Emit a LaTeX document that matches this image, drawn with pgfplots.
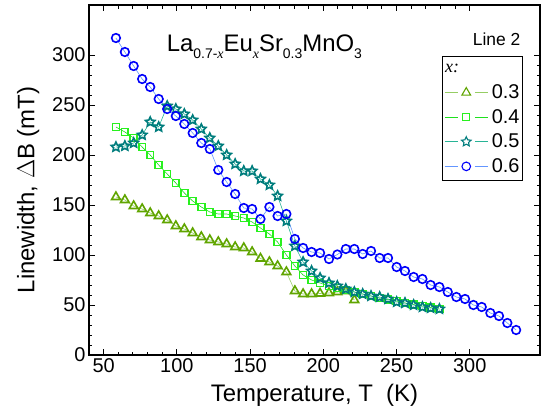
\documentclass[border=0pt]{standalone}
\usepackage{fontspec}
\setmainfont{Liberation Sans}
\newfontfamily\serif{Liberation Serif}
\usepackage{pgfplots}
\usepackage{pgfplotstable}
\pgfplotsset{compat=1.18}

\pgfdeclareplotmark{ostar}{%
 \pgfpathmoveto{\pgfpointpolar{90}{\pgfplotmarksize}}%
 \pgfpathlineto{\pgfpointpolar{126}{0.48\pgfplotmarksize}}%
 \pgfpathlineto{\pgfpointpolar{162}{\pgfplotmarksize}}%
 \pgfpathlineto{\pgfpointpolar{198}{0.48\pgfplotmarksize}}%
 \pgfpathlineto{\pgfpointpolar{234}{\pgfplotmarksize}}%
 \pgfpathlineto{\pgfpointpolar{270}{0.48\pgfplotmarksize}}%
 \pgfpathlineto{\pgfpointpolar{306}{\pgfplotmarksize}}%
 \pgfpathlineto{\pgfpointpolar{342}{0.48\pgfplotmarksize}}%
 \pgfpathlineto{\pgfpointpolar{18}{\pgfplotmarksize}}%
 \pgfpathlineto{\pgfpointpolar{54}{0.48\pgfplotmarksize}}%
 \pgfpathclose\pgfusepathqstroke}

\definecolor{cAm}{RGB}{96,165,0}
\definecolor{cAl}{RGB}{150,205,100}
\definecolor{cBm}{RGB}{40,240,30}
\definecolor{cBl}{RGB}{30,225,30}
\definecolor{cCm}{RGB}{0,125,125}
\definecolor{cCl}{RGB}{40,180,150}
\definecolor{cDm}{RGB}{0,0,250}
\definecolor{cDl}{RGB}{100,150,255}

\pgfplotstableread{
T v
58.4 158
64.5 155
70.5 149
76.3 146
81.8 142
87.6 139
93.4 135
99.3 129
105.1 126
110.8 122
116.7 118
122.5 115
128.3 113
134.0 111
139.8 108
145.7 107
151.4 103
157.1 96.5
163.2 93
168.8 89
174.8 83
180.6 64
186.2 61
192.0 61
197.8 61.5
203.9 62
209.6 63
215.4 64
221.2 55
}\tA

\pgfplotstableread{
T v
58.4 228
64.5 223
70.5 217
76.3 208
81.8 200
87.6 190
93.4 181
99.3 172
105.1 162
110.8 154
116.7 148
122.5 143
128.3 141
134.0 141
139.8 139
145.7 137
151.4 133
157.1 127
163.2 121
168.8 113
174.8 100
180.6 89
186.2 80
192.0 75
197.8 72
203.9 69
209.6 67
215.4 65
221.2 63
226.9 61
232.6 59
238.5 57
244.2 55.5
250.1 54
255.8 52
261.7 50.5
267.7 49
273.3 47.5
279.3 46
}\tB

\pgfplotstableread{
T v
58.4 208
64.5 209
70.5 212
76.3 220
81.8 233
87.6 228
93.4 249
99.3 246
105.1 241
110.8 235
116.7 226
122.5 217
128.3 209
134.0 200
139.8 191
145.7 184
151.4 184
157.1 176
163.2 170
168.8 159
174.8 134
180.6 109
186.2 93
192.0 84
197.8 77
203.9 72
209.6 69
215.4 66
221.2 63
226.9 61
232.6 59
238.5 58
244.2 56
250.1 53
255.8 52
261.7 50
267.7 48
273.3 47
279.3 46
}\tC

\pgfplotstableread{
T v
58.4 317
64.5 303
70.5 289
76.3 276
81.8 268
87.6 256
93.4 246
99.3 239
105.1 231
110.8 222
116.7 212
122.5 206
128.3 185
134.0 173
139.8 161
145.7 147
151.4 146
157.1 136
163.2 148
168.8 139
174.8 141
180.6 116
186.2 107
192.0 103
197.8 102
203.9 96
209.6 100.5
215.4 106
221.2 106
226.9 101
232.6 104
238.5 97
244.2 97
250.1 88
255.8 84
261.7 78
267.7 76
273.3 70
279.3 68
285.0 63
290.9 58
296.8 56
302.5 50
308.2 48
314.1 42
320.0 39
325.7 32
331.7 25
}\tD

\begin{document}
\begin{tikzpicture}
\useasboundingbox (-89bp,-53bp) rectangle (452bp,355bp);
\begin{axis}[
  at={(0,0)}, anchor=south west,
  scale only axis,
  width=451bp, height=350bp,
  xmin=40, xmax=348, ymin=0, ymax=350,
  xtick={50,100,...,300}, ytick={0,50,...,300},
  minor x tick num=4, minor y tick num=4,
  tick align=inside,
  major tick length=6bp, minor tick length=3.5bp,
  axis line style={line width=1.2bp},
  every tick/.style={black, line width=0.9bp},
  xtick pos=both, ytick pos=both,
  xticklabel pos=left, yticklabel pos=left,
  /pgf/number format/assume math mode=true,
  tick label style={font=\fontsize{20}{20}\selectfont},
  xlabel={Temperature, T\ \ (K)},
  ylabel={Linewidth, $\Delta$B (mT)},
  label style={font=\fontsize{24}{24}\selectfont},
  xlabel style={yshift=-5bp},
  ylabel style={yshift=6bp, xshift=-10bp},
  legend cell align=left,
  legend style={
    at={(0.962,0.855)}, anchor=north east,
    draw=black, line width=0.8bp,
    font=\fontsize{20}{20}\selectfont,
    inner xsep=1.5bp, inner ysep=5bp,
    nodes={inner sep=1.5bp},
    row sep=6.2bp, column sep=2bp,
  },
  legend image code/.code={
    \draw[#1, mark=none, line width=1bp] (0bp,0bp) -- (13bp,0bp);
    \draw[#1, mark=none, line width=1bp] (30bp,0bp) -- (43bp,0bp);
    \draw[#1, only marks, every mark/.append style={line width=1.1bp}] plot coordinates {(21.5bp,0bp)};
  },
]
\addlegendimage{legend image code/.code={\path[draw=none] (0bp,-7bp) rectangle (1bp,9bp);\node[anchor=west, inner sep=0pt, draw=none] at (0bp,1bp) {\fontsize{18}{18}\selectfont\serif\itshape x:};}}
\addlegendentry{}

\addplot[color=cAl, line width=0.6bp, mark=triangle, mark size=5bp,
  mark options={draw=cAm, line width=1.6bp, fill=none}] table[x=T,y=v] {\tA};
\addlegendentry{0.3}
\addplot[color=cBl, line width=0.6bp, mark=square, mark size=3.4bp,
  mark options={draw=cBm, line width=1.6bp, fill=none}] table[x=T,y=v] {\tB};
\addlegendentry{0.4}
\addplot[color=cCl, line width=0.6bp, mark=ostar, mark size=5bp,
  mark options={draw=cCm, line width=1.6bp, fill=none}] table[x=T,y=v] {\tC};
\addlegendentry{0.5}
\addplot[color=cDl, line width=0.6bp, mark=o, mark size=4.3bp,
  mark options={draw=cDm, line width=1.6bp, fill=none}] table[x=T,y=v] {\tD};
\addlegendentry{0.6}

\node[anchor=base west, inner sep=0pt] at (axis cs:93,303.5) {\fontsize{24}{24}\selectfont La\raisebox{-7bp}{\fontsize{14}{14}\selectfont 0.7-{\serif\itshape x}}Eu\raisebox{-7bp}{\fontsize{14}{14}\selectfont{\serif\itshape x}}Sr\raisebox{-7bp}{\fontsize{14}{14}\selectfont 0.3}MnO\raisebox{-7bp}{\fontsize{14}{14}\selectfont 3}};
\node[anchor=base west, inner sep=0pt] at (axis cs:302,310) {\fontsize{17.5}{17.5}\selectfont Line 2};
\end{axis}
\end{tikzpicture}
\end{document}
